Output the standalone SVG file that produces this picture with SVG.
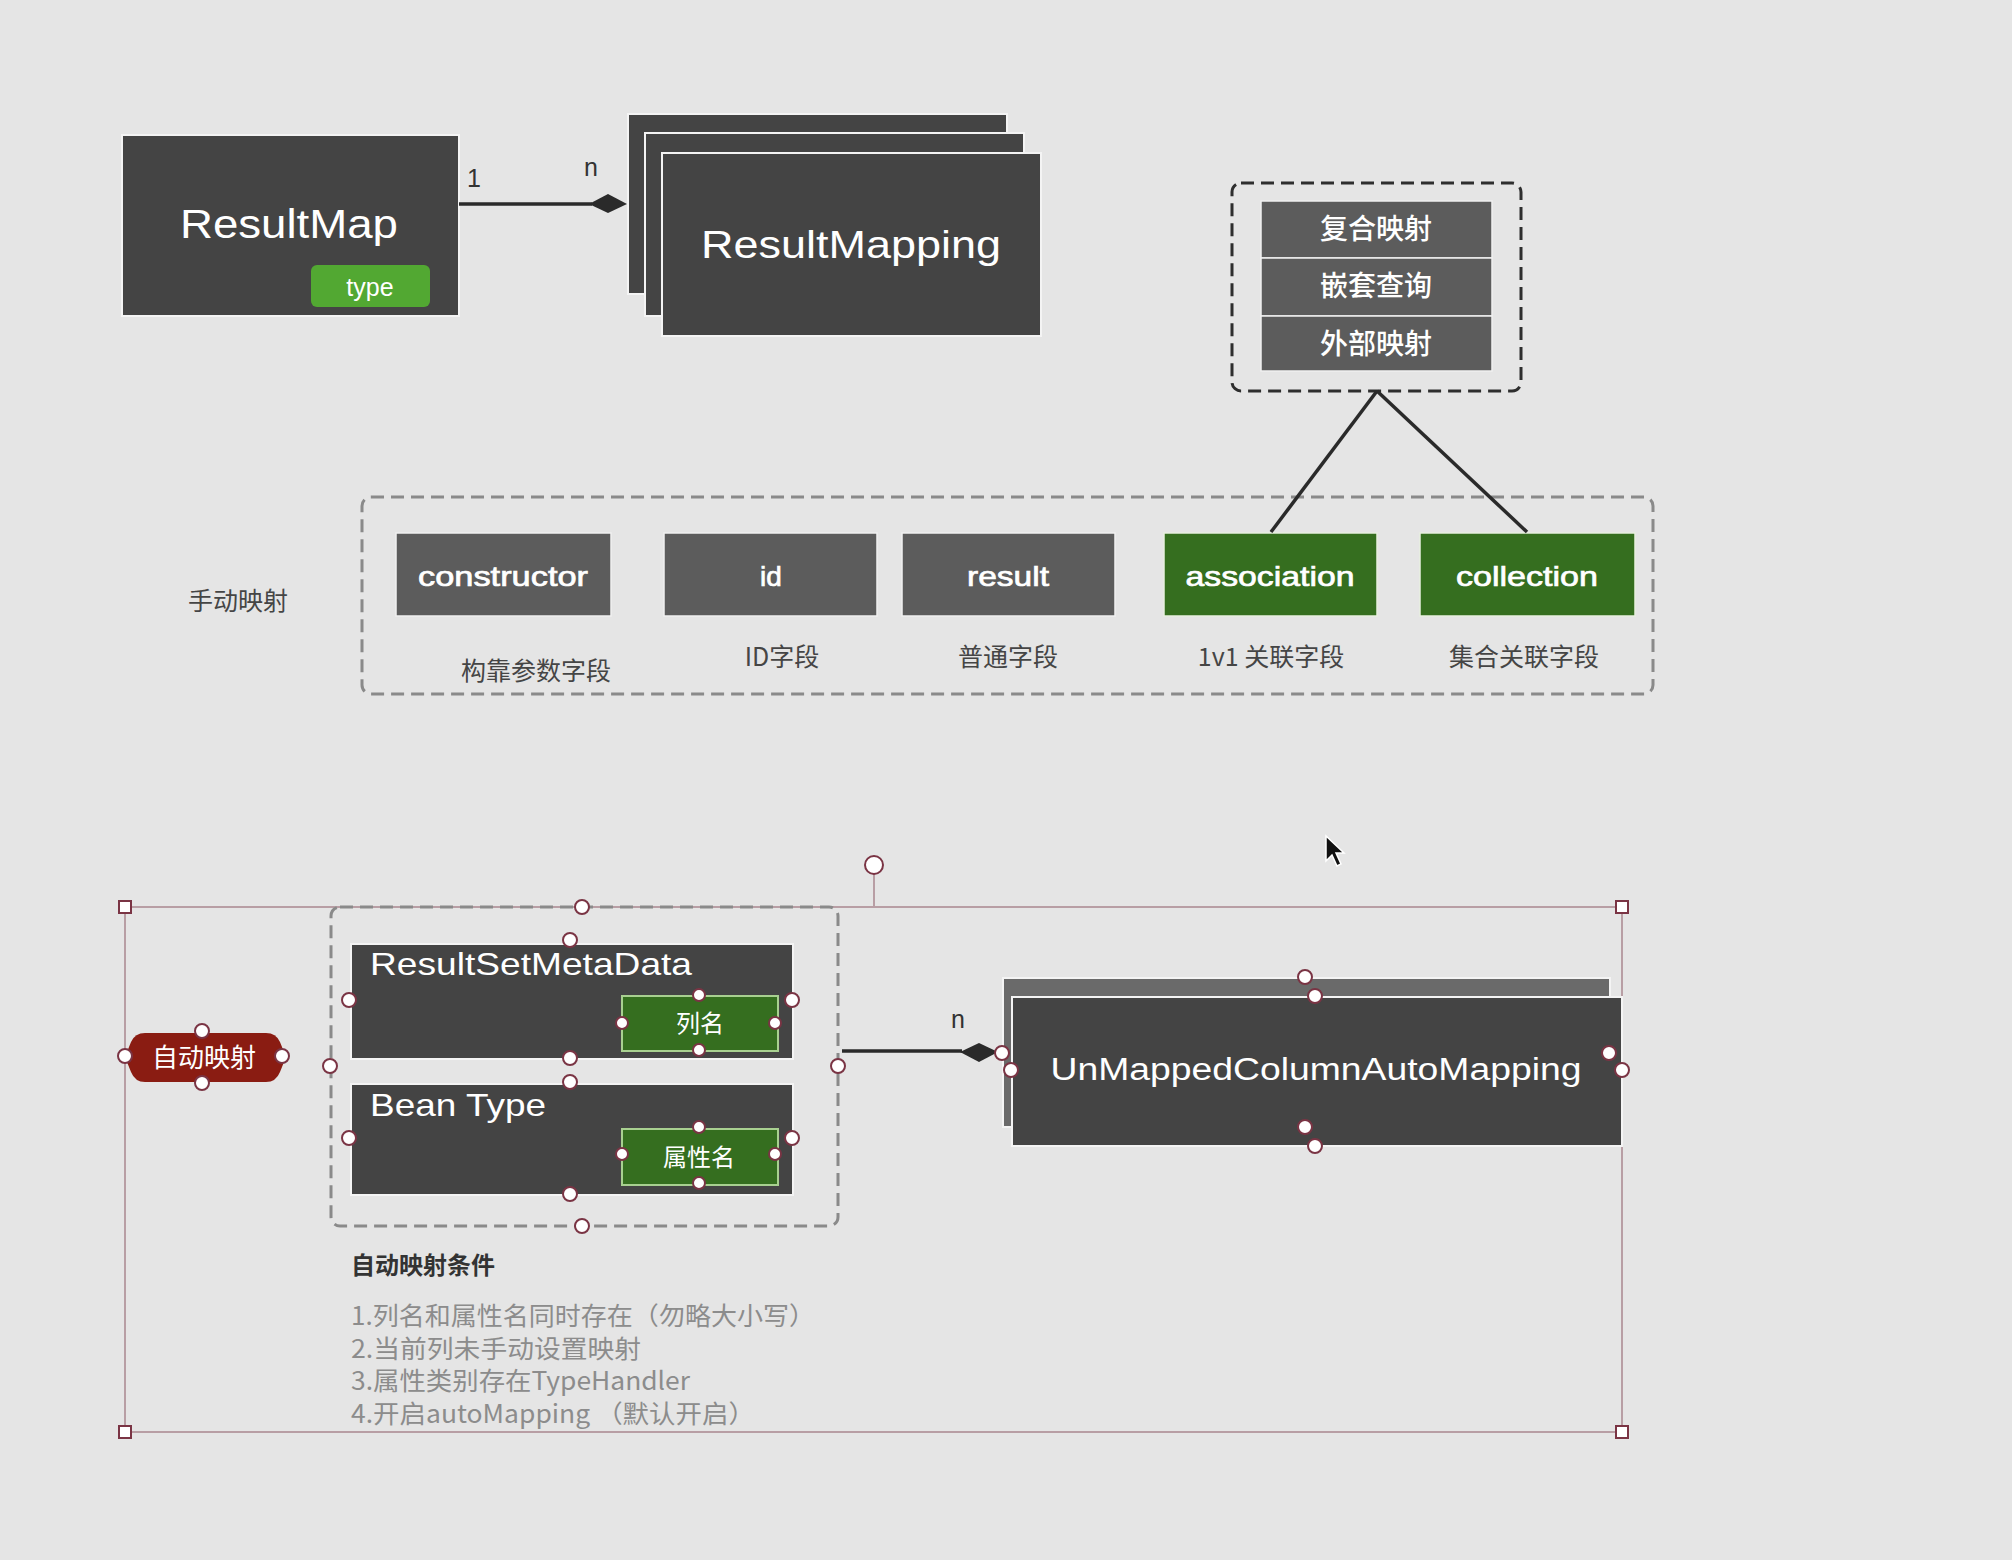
<svg xmlns="http://www.w3.org/2000/svg" width="2012" height="1560" viewBox="0 0 2012 1560">
<defs>
<style>
.bg{fill:#e5e5e5}
.dark{fill:#444444;stroke:#f4f4f4;stroke-width:2}
.gray{fill:#5c5c5c;stroke:#f0f0f0;stroke-width:1.5}
.green{fill:#356e1f;stroke:#e8f0e0;stroke-width:1.5}
.en{font-family:"Liberation Sans",Arial,sans-serif;fill:#ffffff}
.nl{font-family:"Liberation Sans",Arial,sans-serif;fill:#ffffff;stroke:#ffffff;stroke-width:0.7;font-size:28px;text-anchor:middle}
.cn{font-family:"Noto Sans CJK SC","Liberation Sans",sans-serif}
.lbl{font-family:"Noto Sans CJK SC","Liberation Sans",sans-serif;fill:#454545;font-size:25px;text-anchor:middle}
.dash{fill:none;stroke:#8a8a8a;stroke-width:3;stroke-dasharray:13 7}
.conn{stroke:#2a2a2a;stroke-width:3.5;fill:none}
.h{fill:#ffffff;stroke:#7a3444;stroke-width:2}
.sq{fill:#ffffff;stroke:#7a3444;stroke-width:2}
.sel{fill:none;stroke:#b89ea4;stroke-width:2}
.note{font-family:"Noto Sans CJK SC","Liberation Sans",sans-serif;fill:#8c8c8c;font-size:25px}
</style>
</defs>
<rect class="bg" x="0" y="0" width="2012" height="1560"/>

<g id="resultmap">
<rect class="dark" x="122" y="135" width="337" height="181"/>
<text class="en" x="289" y="238" font-size="40" text-anchor="middle" textLength="218" lengthAdjust="spacingAndGlyphs">ResultMap</text>
<rect x="311" y="265" width="119" height="42" rx="6" fill="#52a832"/>
<text class="en" x="370" y="296" font-size="25" text-anchor="middle" fill="#eaf5e2">type</text>
</g>

<g id="resultmapping">
<rect class="dark" x="628" y="114" width="379" height="180"/>
<rect class="dark" x="645" y="133" width="379" height="183"/>
<rect class="dark" x="662" y="153" width="379" height="183"/>
<text class="en" x="851" y="258" font-size="39" text-anchor="middle" textLength="300" lengthAdjust="spacingAndGlyphs">ResultMapping</text>
</g>

<g id="complex-group">
<rect class="dash" x="1232" y="183" width="289" height="208" rx="9" style="stroke:#2e2e2e"/>
<rect class="gray" x="1261" y="201" width="231" height="57"/>
<rect class="gray" x="1261" y="258" width="231" height="58"/>
<rect class="gray" x="1261" y="316" width="231" height="55"/>
<text class="cn" x="1376" y="239" font-size="28" font-weight="500" fill="#ffffff" text-anchor="middle">复合映射</text>
<text class="cn" x="1376" y="296" font-size="28" font-weight="500" fill="#ffffff" text-anchor="middle">嵌套查询</text>
<text class="cn" x="1376" y="354" font-size="28" font-weight="500" fill="#ffffff" text-anchor="middle">外部映射</text>
</g>

<g id="manual-mapping">
<rect class="dash" x="362" y="497" width="1291" height="197" rx="9"/>
<text class="cn" x="238" y="610" font-size="25" fill="#454545" text-anchor="middle">手动映射</text>
</g>

<g id="constructor">
<rect class="gray" x="396" y="533" width="215" height="83"/>
<text class="nl" x="503" y="586" textLength="170" lengthAdjust="spacingAndGlyphs">constructor</text>
<text class="lbl" x="536" y="680">构靠参数字段</text>
</g>
<g id="id">
<rect class="gray" x="664" y="533" width="213" height="83"/>
<text class="nl" x="771" y="586">id</text>
<text class="lbl" x="782" y="666">ID字段</text>
</g>
<g id="result">
<rect class="gray" x="902" y="533" width="213" height="83"/>
<text class="nl" x="1008" y="586" textLength="82" lengthAdjust="spacingAndGlyphs">result</text>
<text class="lbl" x="1008" y="666">普通字段</text>
</g>
<g id="association">
<rect class="green" x="1164" y="533" width="213" height="83"/>
<text class="nl" x="1270" y="586" textLength="169" lengthAdjust="spacingAndGlyphs">association</text>
<text class="lbl" x="1271" y="666">1v1 关联字段</text>
</g>
<g id="collection">
<rect class="green" x="1420" y="533" width="215" height="83"/>
<text class="nl" x="1527" y="586" textLength="142" lengthAdjust="spacingAndGlyphs">collection</text>
<text class="lbl" x="1524" y="666">集合关联字段</text>
</g>

<g id="selection">
<line class="sel" x1="125" y1="907" x2="1622" y2="907"/>
<line class="sel" x1="125" y1="1432" x2="1622" y2="1432"/>
<line class="sel" x1="125" y1="907" x2="125" y2="1432"/>
<line class="sel" x1="1622" y1="907" x2="1622" y2="1432"/>
<line class="sel" x1="874" y1="874" x2="874" y2="907"/>
<circle class="h" cx="874" cy="865" r="9"/>
<rect class="sq" x="119" y="901" width="12" height="12"/>
<rect class="sq" x="1616" y="901" width="12" height="12"/>
<rect class="sq" x="119" y="1426" width="12" height="12"/>
<rect class="sq" x="1616" y="1426" width="12" height="12"/>
</g>

<g id="auto-mapping">
<path d="M145,1033 L266,1033 Q276,1033 280,1042 L284,1052 Q286,1057 284,1062 L280,1072 Q276,1082 266,1082 L145,1082 Q135,1082 131,1072 L127,1062 Q125,1057 127,1052 L131,1042 Q135,1033 145,1033 Z" fill="#8a1c12"/>
<text class="cn" x="204" y="1067" font-size="26" fill="#ffffff" text-anchor="middle">自动映射</text>
</g>

<g id="source-group">
<rect class="dash" x="331" y="907" width="507" height="319" rx="9"/>
</g>

<g id="resultsetmetadata">
<rect class="dark" x="351" y="944" width="442" height="115"/>
<text class="en" x="370" y="975" font-size="32" textLength="322" lengthAdjust="spacingAndGlyphs">ResultSetMetaData</text>
<rect x="622" y="996" width="156" height="55" fill="#356e1f" stroke="#a8d090" stroke-width="2"/>
<text class="cn" x="700" y="1032" font-size="24" fill="#ffffff" text-anchor="middle">列名</text>
</g>

<g id="beantype">
<rect class="dark" x="351" y="1084" width="442" height="111"/>
<text class="en" x="370" y="1116" font-size="32" textLength="176" lengthAdjust="spacingAndGlyphs">Bean Type</text>
<rect x="622" y="1129" width="156" height="56" fill="#356e1f" stroke="#a8d090" stroke-width="2"/>
<text class="cn" x="699" y="1166" font-size="24" fill="#ffffff" text-anchor="middle">属性名</text>
</g>

<g id="unmapped">
<rect x="1003" y="978" width="607" height="149" fill="#6a6a6a" stroke="#f4f4f4" stroke-width="2"/>
<rect class="dark" x="1012" y="997" width="610" height="149"/>
<text class="en" x="1316" y="1080" font-size="31" text-anchor="middle" textLength="531" lengthAdjust="spacingAndGlyphs">UnMappedColumnAutoMapping</text>
</g>

<g id="connectors">
<line class="conn" x1="459" y1="204" x2="592" y2="204"/>
<polygon points="589,204 608,194 627,204 608,213" fill="#2a2a2a"/>
<text x="474" y="187" font-family="Liberation Sans,Arial,sans-serif" font-size="25" fill="#333" text-anchor="middle">1</text>
<text x="591" y="176" font-family="Liberation Sans,Arial,sans-serif" font-size="25" fill="#333" text-anchor="middle">n</text>
<line class="conn" x1="1377" y1="391" x2="1271" y2="532" stroke-width="3"/>
<line class="conn" x1="1377" y1="391" x2="1527" y2="532" stroke-width="3"/>
<line class="conn" x1="842" y1="1051" x2="962" y2="1051"/>
<polygon points="960,1052 979,1043 998,1052 979,1062" fill="#2a2a2a"/>
<text x="958" y="1028" font-family="Liberation Sans,Arial,sans-serif" font-size="25" fill="#333" text-anchor="middle">n</text>
</g>

<g id="handles">
<circle class="h" cx="125" cy="1056" r="7"/>
<circle class="h" cx="282" cy="1056" r="7"/>
<circle class="h" cx="202" cy="1031" r="7"/>
<circle class="h" cx="202" cy="1083" r="7"/>
<circle class="h" cx="582" cy="907" r="7"/>
<circle class="h" cx="582" cy="1226" r="7"/>
<circle class="h" cx="330" cy="1066" r="7"/>
<circle class="h" cx="838" cy="1066" r="7"/>
<circle class="h" cx="570" cy="940" r="7"/>
<circle class="h" cx="570" cy="1058" r="7"/>
<circle class="h" cx="349" cy="1000" r="7"/>
<circle class="h" cx="792" cy="1000" r="7"/>
<circle class="h" cx="699" cy="995" r="6"/>
<circle class="h" cx="699" cy="1050" r="6"/>
<circle class="h" cx="622" cy="1023" r="6"/>
<circle class="h" cx="775" cy="1023" r="6"/>
<circle class="h" cx="570" cy="1082" r="7"/>
<circle class="h" cx="570" cy="1194" r="7"/>
<circle class="h" cx="349" cy="1138" r="7"/>
<circle class="h" cx="792" cy="1138" r="7"/>
<circle class="h" cx="699" cy="1127" r="6"/>
<circle class="h" cx="699" cy="1183" r="6"/>
<circle class="h" cx="622" cy="1154" r="6"/>
<circle class="h" cx="775" cy="1154" r="6"/>
<circle class="h" cx="1305" cy="977" r="7"/>
<circle class="h" cx="1305" cy="1127" r="7"/>
<circle class="h" cx="1002" cy="1053" r="7"/>
<circle class="h" cx="1609" cy="1053" r="7"/>
<circle class="h" cx="1315" cy="996" r="7"/>
<circle class="h" cx="1315" cy="1146" r="7"/>
<circle class="h" cx="1011" cy="1070" r="7"/>
<circle class="h" cx="1622" cy="1070" r="7"/>
</g>

<g id="conditions">
<text class="cn" x="351" y="1274" font-size="24" font-weight="bold" fill="#333333">自动映射条件</text>
<text class="note" x="351" y="1325" textLength="464" lengthAdjust="spacingAndGlyphs">1.列名和属性名同时存在（勿略大小写）</text>
<text class="note" x="351" y="1358" textLength="290" lengthAdjust="spacingAndGlyphs">2.当前列未手动设置映射</text>
<text class="note" x="351" y="1390" textLength="339" lengthAdjust="spacingAndGlyphs">3.属性类别存在TypeHandler</text>
<text class="note" x="351" y="1423" textLength="404" lengthAdjust="spacingAndGlyphs">4.开启autoMapping （默认开启）</text>
</g>

<g id="cursor">
<polygon points="1326,836 1326,861 1332,855 1337,866 1341,864 1336,853 1344,853" fill="#111" stroke="#fff" stroke-width="1.5"/>
</g>
</svg>
